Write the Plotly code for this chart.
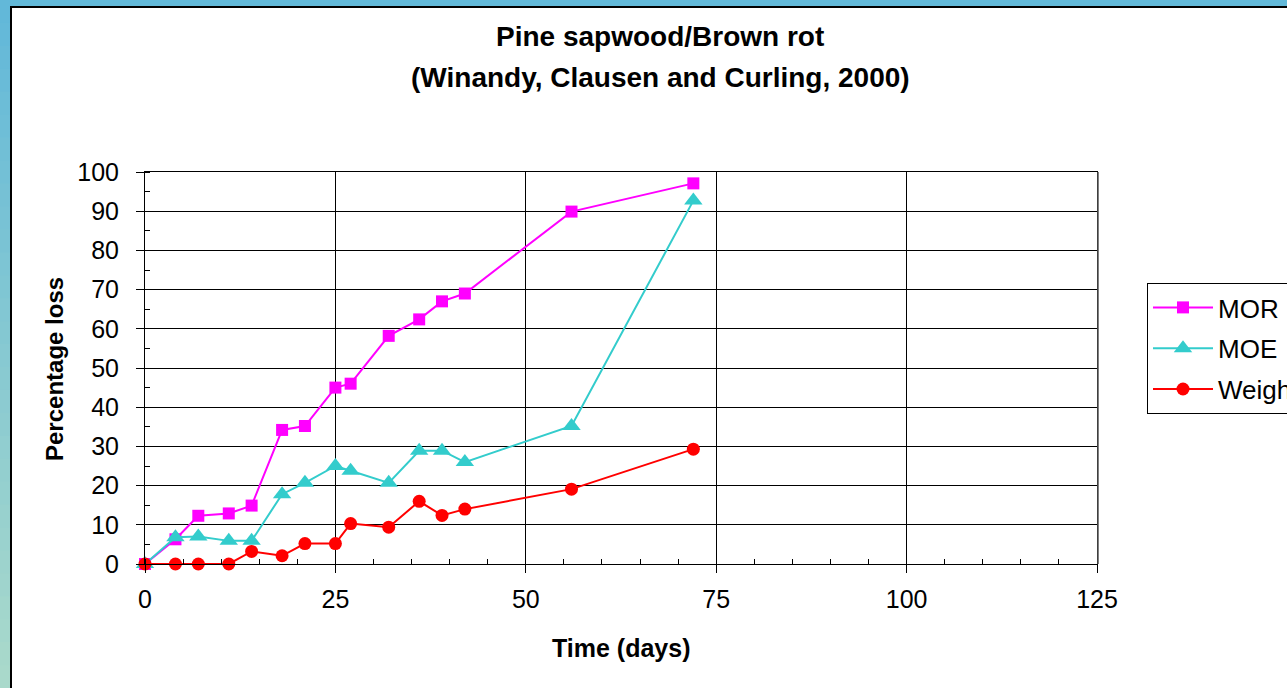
import plotly.graph_objects as go

# ---------------- data ----------------
days_mor = [0, 4, 7, 11, 14, 18, 21, 25, 27, 32, 36, 39, 42, 56, 72]
mor = [0, 6.3, 12.3, 12.9, 14.9, 34.2, 35.2, 45.0, 46.0, 58.2, 62.4, 67.0, 69.0, 89.9, 97.1]

days_moe = [0, 4, 7, 11, 14, 18, 21, 25, 27, 32, 36, 39, 42, 56, 72]
moe = [0, 6.8, 7.0, 5.9, 5.9, 17.8, 20.7, 25.0, 23.8, 20.7, 28.9, 28.9, 26.0, 35.2, 92.7]

days_weight = [0, 4, 7, 11, 14, 18, 21, 25, 27, 32, 36, 39, 42, 56, 72]
weight = [0, 0, 0, 0, 3.2, 2.1, 5.2, 5.2, 10.3, 9.4, 16.0, 12.4, 14.0, 19.1, 29.3]

series_names = ["MOR", "MOE", "Weight"]
title_lines = ["Pine sapwood/Brown rot", "(Winandy, Clausen and Curling, 2000)"]
x_title = "Time (days)"
y_title = "Percentage loss"

# ---------------- layout geometry ----------------
W, H = 1287, 688
L, R, T, B = 145, 1097, 172, 564  # plot area in pixels
PW, PH = R - L, B - T


def px_x(px):
    return (px - L) / PW


def px_y(py):
    return (B - py) / PH


FONT = "Arial, 'Liberation Sans', sans-serif"

fig = go.Figure()

styles = [
    dict(color="#FF00FF", symbol="square", size=12),
    dict(color="#33CCCC", symbol="triangle-up", size=16),
    dict(color="#FF0000", symbol="circle", size=13),
]
for name, xs, ys, st in zip(series_names, [days_mor, days_moe, days_weight],
                            [mor, moe, weight], styles):
    fig.add_trace(go.Scatter(
        x=xs, y=ys, name=name, mode="lines+markers",
        line=dict(color=st["color"], width=2),
        marker=dict(color=st["color"], symbol=st["symbol"], size=st["size"],
                    line=dict(width=0)),
        cliponaxis=False, legendgroup=name,
    ))

shapes = []
# background frame: blue top strip, gradient left strip, white panel with black border
shapes.append(dict(type="rect", xref="paper", yref="paper",
                   x0=px_x(0), x1=px_x(W + 20), y0=px_y(0), y1=px_y(7),
                   fillcolor="#62B9D9", line=dict(width=0), layer="below"))
n = 30
c0 = (0x62, 0xB8, 0xD9)
c1 = (0xA9, 0xD9, 0xCB)
for i in range(n):
    t = i / (n - 1)
    col = "rgb(%d,%d,%d)" % tuple(round(a + (b - a) * t) for a, b in zip(c0, c1))
    shapes.append(dict(type="rect", xref="paper", yref="paper",
                       x0=px_x(0), x1=px_x(11),
                       y0=px_y(H * i / n), y1=px_y(H * (i + 1) / n + 1),
                       fillcolor=col, line=dict(width=0), layer="below"))
shapes.append(dict(type="rect", xref="paper", yref="paper",
                   x0=px_x(11), x1=px_x(W + 20), y0=px_y(7), y1=px_y(H + 20),
                   fillcolor="white", line=dict(color="black", width=2), layer="below"))
# slightly heavier right edge of the plot frame
shapes.append(dict(type="line", xref="paper", yref="paper",
                   x0=px_x(R + 1), x1=px_x(R + 1), y0=0, y1=1,
                   line=dict(color="#555555", width=1.5), layer="above"))

annotations = [
    dict(text="<b>%s</b>" % title_lines[0], xref="paper", yref="paper",
         x=px_x(660), y=px_y(37), showarrow=False, xanchor="center", yanchor="middle",
         font=dict(family=FONT, size=28, color="black")),
    dict(text="<b>%s</b>" % title_lines[1], xref="paper", yref="paper",
         x=px_x(660), y=px_y(77), showarrow=False, xanchor="center", yanchor="middle",
         font=dict(family=FONT, size=28, color="black")),
    dict(text="<b>%s</b>" % x_title, xref="paper", yref="paper",
         x=px_x(621), y=px_y(648), showarrow=False, xanchor="center", yanchor="middle",
         font=dict(family=FONT, size=25, color="black")),
    dict(text="<b>%s</b>" % y_title, xref="paper", yref="paper",
         x=px_x(54), y=px_y(369), showarrow=False, xanchor="center", yanchor="middle",
         textangle=-90, font=dict(family=FONT, size=24, color="black")),
]

fig.update_layout(
    width=W, height=H,
    margin=dict(l=L, r=W - R, t=T, b=H - B, pad=0, autoexpand=False),
    paper_bgcolor="white", plot_bgcolor="white",
    font=dict(family=FONT, size=24, color="black"),
    showlegend=True,
    legend=dict(
        x=px_x(1147), y=px_y(283), xanchor="left", yanchor="top",
        bgcolor="white", bordercolor="black", borderwidth=1,
        font=dict(family=FONT, size=26, color="black"),
        tracegroupgap=4, traceorder="grouped", itemwidth=60,
    ),
    shapes=shapes,
    annotations=annotations,
)

fig.update_xaxes(
    range=[0, 125], tickmode="linear", tick0=0, dtick=25,
    showgrid=True, gridcolor="black", gridwidth=1,
    showline=True, linecolor="black", linewidth=1, mirror=True,
    ticks="outside", ticklen=8, tickcolor="black", tickwidth=1,
    tickfont=dict(family=FONT, size=25, color="black"),
    ticklabelstandoff=5,
    minor=dict(tickmode="linear", dtick=5, ticks="inside", ticklen=5,
               tickcolor="black", tickwidth=1, showgrid=False),
    zeroline=False, fixedrange=True,
)
fig.update_yaxes(
    range=[0, 100], tickmode="linear", tick0=0, dtick=10,
    showgrid=True, gridcolor="black", gridwidth=1,
    showline=True, linecolor="black", linewidth=1, mirror=True,
    ticks="outside", ticklen=8, tickcolor="black", tickwidth=1,
    tickfont=dict(family=FONT, size=25, color="black"),
    ticklabelstandoff=12,
    minor=dict(tickmode="linear", dtick=5, ticks="inside", ticklen=5,
               tickcolor="black", tickwidth=1, showgrid=False),
    zeroline=False, fixedrange=True,
)

fig.write_html("out.html")
